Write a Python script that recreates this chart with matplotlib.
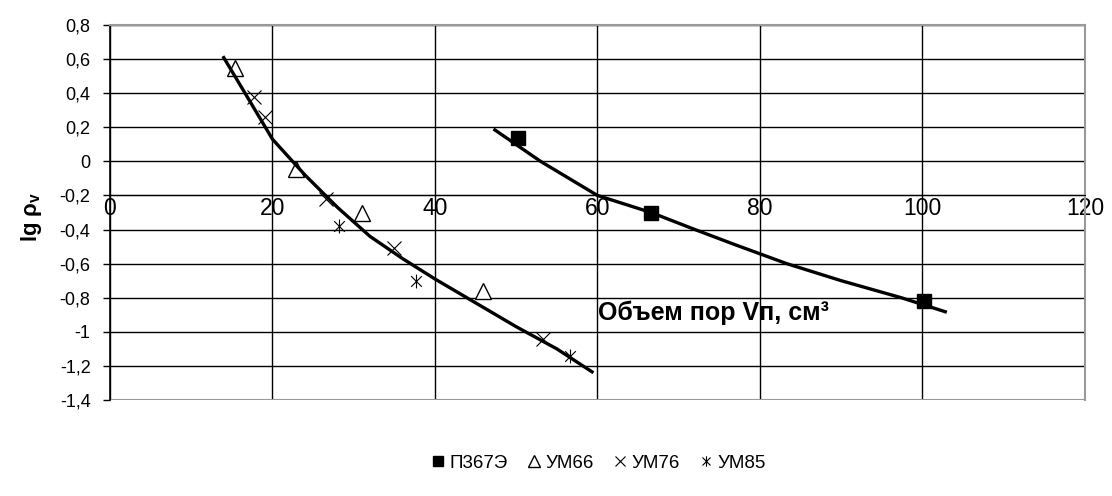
import numpy as np
import matplotlib.pyplot as plt
from matplotlib.path import Path

plt.rcParams['font.family'] = ['Liberation Sans', 'DejaVu Sans']
plt.rcParams['mathtext.fontset'] = 'custom'
plt.rcParams['mathtext.rm'] = 'Liberation Sans'
plt.rcParams['mathtext.bf'] = 'Liberation Sans:bold'

# measured samples (pore volume, lg rho)
p367_x = [50.2, 66.6, 100.2]
p367_y = [0.14, -0.30, -0.82]

um66_x = [15.4, 22.9, 31.0, 45.9]
um66_y = [0.55, -0.045, -0.30, -0.763]

um76_x = [17.7, 19.1, 26.6, 35.0, 53.3]
um76_y = [0.38, 0.26, -0.22, -0.51, -1.04]

um85_x = [28.2, 37.7, 56.6]
um85_y = [-0.38, -0.70, -1.14]

# trend curves
trend_left_x = [13.9, 17, 20, 24, 28, 32, 36, 40, 45, 50, 55, 59.5]
trend_left_y = [0.617, 0.37, 0.13, -0.08, -0.27, -0.44, -0.57, -0.69, -0.83, -0.97, -1.10, -1.24]
trend_right_x = [47.2, 53, 60, 66.6, 72, 77, 83.3, 90, 97.4, 103]
trend_right_y = [0.19, 0.0, -0.2, -0.30, -0.40, -0.49, -0.60, -0.70, -0.80, -0.885]

x_ticks = [0, 20, 40, 60, 80, 100, 120]
y_ticks = [0.8, 0.6, 0.4, 0.2, 0, -0.2, -0.4, -0.6, -0.8, -1, -1.2, -1.4]

# excel-like star marker: x with a vertical bar
star = Path([(-1, -1), (1, 1), (-1, 1), (1, -1), (0, -1.3), (0, 1.3)],
            [Path.MOVETO, Path.LINETO, Path.MOVETO, Path.LINETO, Path.MOVETO, Path.LINETO])

fig = plt.figure(figsize=(11.12, 4.96), dpi=100)
ax = fig.add_axes([0.0989, 0.1935, 0.8768, 0.7561])

ax.plot(p367_x, p367_y, 's', color='black', markersize=10.5, label='П367Э', zorder=3)
ax.plot(um66_x, um66_y, '^', markerfacecolor='white', markeredgecolor='black',
        markeredgewidth=1.0, markersize=12, label='УМ66', zorder=3)
ax.plot(um76_x, um76_y, 'x', color='black', markeredgewidth=0.8, markersize=10,
        label='УМ76', zorder=3)
ax.plot(um85_x, um85_y, marker=star, linestyle='none', color='black',
        markeredgewidth=0.8, markersize=10, label='УМ85', zorder=3)

ax.plot(trend_left_x, trend_left_y, color='black', linewidth=2.4, zorder=4,
        solid_capstyle='butt')
ax.plot(trend_right_x, trend_right_y, color='black', linewidth=2.4, zorder=4,
        solid_capstyle='butt')

# x axis sits on the -0.2 line
ax.spines['bottom'].set_position(('data', -0.2))
ax.spines['bottom'].set_color('black')

ax.set_xlim(0, 120)
ax.set_ylim(-1.4, 0.8)
ax.set_xticks(x_ticks)
ax.set_xticklabels([str(v) for v in x_ticks])
ax.set_yticks(y_ticks)
ax.set_yticklabels([('%g' % v).replace('.', ',') for v in y_ticks])

ax.grid(True, color='black', linewidth=1.0, zorder=1)
ax.set_axisbelow(True)

ax.axhline(-1.4, color='#999999', linewidth=1.5, zorder=2)
ax.spines['top'].set_color('#999999')
ax.spines['top'].set_linewidth(1.5)
ax.spines['right'].set_color('#999999')
ax.spines['right'].set_linewidth(1.5)
ax.spines['left'].set_color('black')
ax.spines['left'].set_linewidth(1.2)
ax.tick_params(axis='x', length=0, pad=1, labelsize=16.5)
ax.tick_params(axis='y', length=5, width=1.0, direction='out', pad=9, labelsize=13)

ax.text(60.1, -0.886, 'Объем пор Vп, см³', fontsize=18, fontweight='bold',
        ha='left', va='center')
fig.text(0.028, 0.5625, r'lg ρ$_{\mathbf{v}}$', rotation=90, fontsize=16,
         fontweight='bold', ha='center', va='center')

fig.legend(loc='center', bbox_to_anchor=(0.538, 0.0665), ncol=4, frameon=False,
           fontsize=13.5, handlelength=0.8, handletextpad=0.2, columnspacing=1.0,
           markerscale=0.75)

fig.savefig('out.png', dpi=100)
